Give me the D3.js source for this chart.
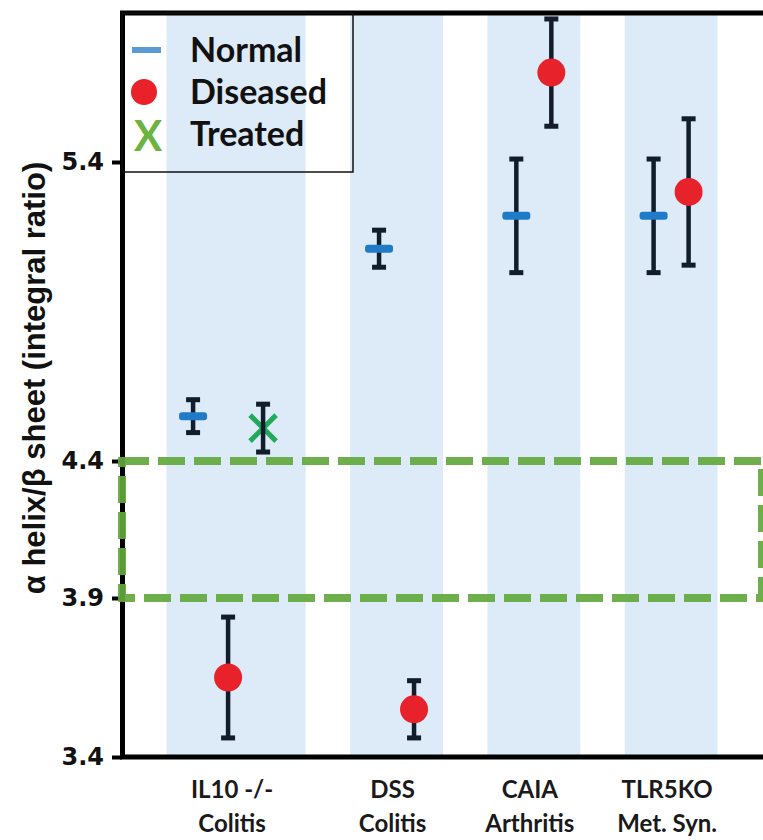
<!DOCTYPE html>
<html>
<head>
<meta charset="utf-8">
<script src="https://cdn.jsdelivr.net/npm/d3@7"></script>
<style>
  body { margin: 0; background: #fff; }
</style>
</head>
<body>
<div id="chart"></div>
<script>
var categoryLines = [["IL10 -/-", "Colitis"], ["DSS", "Colitis"], ["CAIA", "Arthritis"], ["TLR5KO", "Met. Syn."]];
var seriesNames = ["Normal", "Diseased", "Treated"];
var normalMean = [4.55, 5.11, 5.22, 5.22];
var normalErr = [0.055, 0.062, 0.19, 0.19];
var diseasedMean = [3.65, 3.55, 5.70, 5.30];
var diseasedErr = [0.19, 0.09, 0.18, 0.245];
var treatedMean = [4.51, null, null, null];
var treatedErr = [0.08, null, null, null];
var yTicks = [3.4, 3.9, 4.4, 5.4];
var yTop = 5.9;
var targetBand = [3.9, 4.4];

var width = 763,
    height = 840;
var plot = { left: 122, right: 762, top: 13, bottom: 757 };
var pointGap = 35;

var means = { Normal: normalMean, Diseased: diseasedMean, Treated: treatedMean };
var errs = { Normal: normalErr, Diseased: diseasedErr, Treated: treatedErr };

// one entry per category, holding the series that have a value there
var groups = categoryLines.map(function(lines, i) {
  var present = seriesNames.filter(function(s) { return means[s][i] != null; });
  return { index: i, lines: lines, series: present };
});

// x runs in "slot" units: a gap, then one slot per series of each group, then a gap
var gapUnits = 0.96;
var cursor = gapUnits;
groups.forEach(function(g) {
  g.start = cursor;
  cursor += g.series.length;
  g.end = cursor;
  cursor += gapUnits;
});
var x = d3.scaleLinear().domain([0, cursor]).range([plot.left, plot.right]);

// the original axis is not evenly spaced, so calibrate it piecewise on its ticks
var y = d3.scaleLinear()
  .domain(yTicks.concat([yTop]))
  .range([757, 598, 461, 162, 13]);

var points = [];
groups.forEach(function(g) {
  var center = (x(g.start) + x(g.end)) / 2;
  g.center = center;
  g.series.forEach(function(s, k) {
    points.push({
      series: s,
      mean: means[s][g.index],
      err: errs[s][g.index],
      px: center + (k - (g.series.length - 1) / 2) * pointGap - (g.series.length > 2 ? 8 : 0)
    });
  });
});

var svg = d3.select("#chart").append("svg")
  .attr("width", width)
  .attr("height", height);

// shaded bands
svg.append("g").selectAll("rect")
  .data(groups)
  .enter().append("rect")
    .attr("x", function(d) { return x(d.start); })
    .attr("y", plot.top)
    .attr("width", function(d) { return x(d.end) - x(d.start); })
    .attr("height", plot.bottom - plot.top)
    .attr("fill", "#ddeaf7");

// frame: top and bottom lines
svg.append("line")
  .attr("x1", plot.left - 2).attr("x2", width)
  .attr("y1", plot.top).attr("y2", plot.top)
  .attr("stroke", "#000").attr("stroke-width", 5);
svg.append("line")
  .attr("x1", plot.left - 2).attr("x2", width)
  .attr("y1", plot.bottom).attr("y2", plot.bottom)
  .attr("stroke", "#000").attr("stroke-width", 5);

// y axis
var yAxis = d3.axisLeft(y)
  .tickValues(yTicks)
  .tickSize(10)
  .tickSizeOuter(0)
  .tickPadding(8)
  .tickFormat(d3.format(".1f"));

var axisG = svg.append("g")
  .attr("transform", "translate(" + plot.left + ",0)")
  .call(yAxis);
axisG.select(".domain").attr("stroke", "#000").attr("stroke-width", 5);
axisG.selectAll(".tick line").attr("stroke", "#000").attr("stroke-width", 4);
axisG.selectAll(".tick text")
  .attr("font-family", "'DejaVu Sans', sans-serif")
  .attr("font-weight", "bold")
  .attr("font-size", 24)
  .attr("fill", "#111");

// target range box
svg.append("rect")
  .attr("x", plot.left)
  .attr("y", y(targetBand[1]))
  .attr("width", plot.right - plot.left)
  .attr("height", y(targetBand[0]) - y(targetBand[1]))
  .attr("fill", "none")
  .attr("stroke", "#62a83c")
  .attr("stroke-opacity", 0.92)
  .attr("stroke-width", 8)
  .attr("stroke-dasharray", "27 9");

// y title
svg.append("text")
  .attr("transform", "translate(45,378) rotate(-90)")
  .attr("text-anchor", "middle")
  .attr("font-family", "'Liberation Sans', Arial, sans-serif")
  .attr("font-weight", "bold")
  .attr("font-size", 31)
  .attr("fill", "#111")
  .text("\u03b1 helix/\u03b2 sheet (integral ratio)");

// category labels
var labels = svg.append("g").selectAll("text")
  .data(groups)
  .enter().append("text")
    .attr("text-anchor", "middle")
    .attr("font-family", "Lato, sans-serif")
    .attr("font-weight", "bold")
    .attr("font-size", 24)
    .attr("fill", "#1a1a1a");
labels.selectAll("tspan")
  .data(function(d) { return d.lines.map(function(l) { return { text: l, cx: d.center - 4 }; }); })
  .enter().append("tspan")
    .attr("x", function(d) { return d.cx; })
    .attr("y", function(d, i) { return 798 + i * 34; })
    .text(function(d) { return d.text; });

// points with error bars
var errColor = "#121c2b",
    capW = 14;

function drawErrorBar(g, d) {
  g.append("line")
    .attr("x1", d.px).attr("x2", d.px)
    .attr("y1", y(d.mean + d.err)).attr("y2", y(d.mean - d.err))
    .attr("stroke", errColor).attr("stroke-width", 4.5);
  [d.mean + d.err, d.mean - d.err].forEach(function(v) {
    g.append("rect")
      .attr("x", d.px - capW / 2).attr("y", y(v) - 2.5)
      .attr("width", capW).attr("height", 5)
      .attr("fill", errColor);
  });
}

var pointG = svg.append("g");
points.forEach(function(d) {
  var g = pointG.append("g");
  var cy = y(d.mean);
  if (d.series === "Normal") {
    drawErrorBar(g, d);
    g.append("rect")
      .attr("x", d.px - 14).attr("y", cy - 4)
      .attr("width", 28).attr("height", 8)
      .attr("rx", 3)
      .attr("fill", "#1f7bc8");
  } else if (d.series === "Diseased") {
    drawErrorBar(g, d);
    g.append("circle")
      .attr("cx", d.px).attr("cy", cy)
      .attr("r", 14)
      .attr("fill", "#e8222b");
  } else {
    var s = 13;
    g.append("path")
      .attr("d", "M" + (d.px - s) + "," + (cy - s) + "L" + (d.px + s) + "," + (cy + s) +
                 "M" + (d.px + s) + "," + (cy - s) + "L" + (d.px - s) + "," + (cy + s))
      .attr("stroke", "#22a95b")
      .attr("stroke-width", 5)
      .attr("fill", "none");
    drawErrorBar(g, d);
  }
});

// legend
var legend = svg.append("g");
legend.append("rect")
  .attr("x", plot.left).attr("y", plot.top)
  .attr("width", 231).attr("height", 159)
  .attr("fill", "none")
  .attr("stroke", "#111")
  .attr("stroke-width", 1.5);

var legendRows = legend.selectAll("g.row")
  .data(seriesNames)
  .enter().append("g")
    .attr("class", "row")
    .attr("transform", function(d, i) { return "translate(0," + (50 + i * 42) + ")"; });

legendRows.append("text")
  .attr("x", 190)
  .attr("y", 12)
  .attr("font-family", "Lato, sans-serif")
  .attr("font-weight", "bold")
  .attr("font-size", 34)
  .attr("fill", "#111")
  .text(function(d) { return d; });

legendRows.each(function(d) {
  var row = d3.select(this);
  if (d === "Normal") {
    row.append("rect")
      .attr("x", 132).attr("y", -3)
      .attr("width", 29).attr("height", 6)
      .attr("fill", "#5b9bd5");
  } else if (d === "Diseased") {
    row.append("circle")
      .attr("cx", 144).attr("cy", 0)
      .attr("r", 13)
      .attr("fill", "#e8212a");
  } else {
    row.append("text")
      .attr("x", 148).attr("y", 17)
      .attr("text-anchor", "middle")
      .attr("font-family", "Lato, sans-serif")
      .attr("font-weight", "bold")
      .attr("font-size", 42)
      .attr("fill", "#6cb33f")
      .text("X");
  }
});
</script>
</body>
</html>
